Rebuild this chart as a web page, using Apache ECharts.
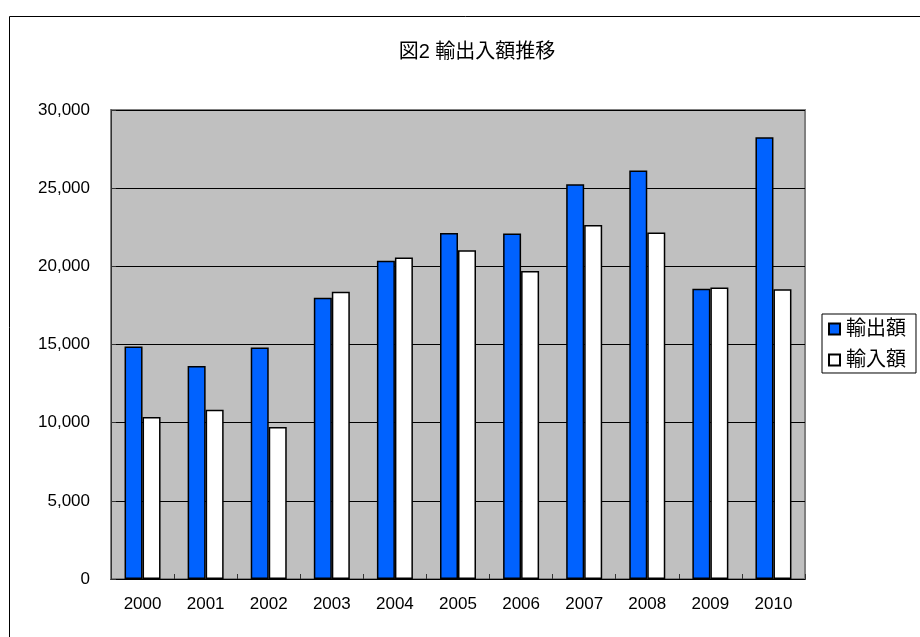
<!DOCTYPE html>
<html>
<head>
<meta charset="utf-8">
<script src="https://cdn.jsdelivr.net/npm/echarts@6/dist/echarts.min.js"></script>
<style>
  html, body { margin: 0; padding: 0; background: #fff; }
  #chart { width: 920px; height: 637px; }
</style>
</head>
<body>
<div id="chart"></div>
<script>
var YEARS = ["2000", "2001", "2002", "2003", "2004", "2005", "2006", "2007", "2008", "2009", "2010"];
var EXPORTS = [14870, 13620, 14810, 17990, 20350, 22140, 22100, 25250, 26130, 18570, 28250];
var IMPORTS = [10370, 10830, 9720, 18380, 20560, 21030, 19700, 22650, 22160, 18650, 18530];
var SERIES_NAMES = ["輸出額", "輸入額"];
var TITLE = "図2 輸出入額推移";

var FONT = "'Liberation Sans','Noto Sans CJK JP',sans-serif";

var chart = echarts.init(document.getElementById("chart"));

function fmtNum(v) {
  return Number(v).toLocaleString("en-US");
}

chart.setOption({
  animation: false,
  backgroundColor: "#fff",
  textStyle: { fontFamily: FONT },
  title: {
    text: TITLE, left: 472, top: 37, textAlign: "center",
    textStyle: { fontSize: 20, fontWeight: "normal", color: "#000", fontFamily: FONT }
  },
  graphic: [{
    type: "rect", left: 7, top: 14, silent: true,
    shape: { width: 940, height: 660 },
    style: { fill: "none", stroke: "#000", lineWidth: 1 }
  }],
  legend: {
    orient: "vertical", left: 822, top: 314,
    data: SERIES_NAMES,
    icon: "rect", itemWidth: 11, itemHeight: 11, itemGap: 11,
    padding: [5, 10, 3, 6],
    backgroundColor: "#fff", borderColor: "#000", borderWidth: 1,
    textStyle: { fontSize: 20, color: "#000", fontFamily: FONT, padding: [0, 0, 0, 1] }
  },
  grid: {
    left: 111, right: 115, top: 110, bottom: 58,
    show: true, backgroundColor: "#c0c0c0", borderColor: "#808080", borderWidth: 2
  },
  xAxis: {
    type: "category", data: YEARS,
    axisLine: { lineStyle: { color: "#000", width: 1 } },
    axisTick: { show: true, inside: true, length: 5, alignWithLabel: false, lineStyle: { color: "#333" } },
    axisLabel: { color: "#000", fontSize: 17, margin: 17, fontFamily: FONT }
  },
  yAxis: {
    type: "value", min: 0, max: 30000, interval: 5000,
    axisLine: { show: true, lineStyle: { color: "#333", width: 1 } },
    axisTick: { show: true, inside: true, length: 5, lineStyle: { color: "#333" } },
    axisLabel: { color: "#000", fontSize: 17, margin: 21, fontFamily: FONT, formatter: fmtNum },
    splitLine: { show: true, lineStyle: { color: "#000", width: 1 } }
  },
  series: [
    {
      name: SERIES_NAMES[0], type: "bar", data: EXPORTS,
      barWidth: 18, barGap: "0%",
      itemStyle: { color: "#0062ff", borderColor: "#000", borderWidth: 1.5 }
    },
    {
      name: SERIES_NAMES[1], type: "bar", data: IMPORTS,
      barWidth: 18,
      itemStyle: { color: "#fff", borderColor: "#000", borderWidth: 1.5 }
    }
  ]
});
</script>
</body>
</html>
